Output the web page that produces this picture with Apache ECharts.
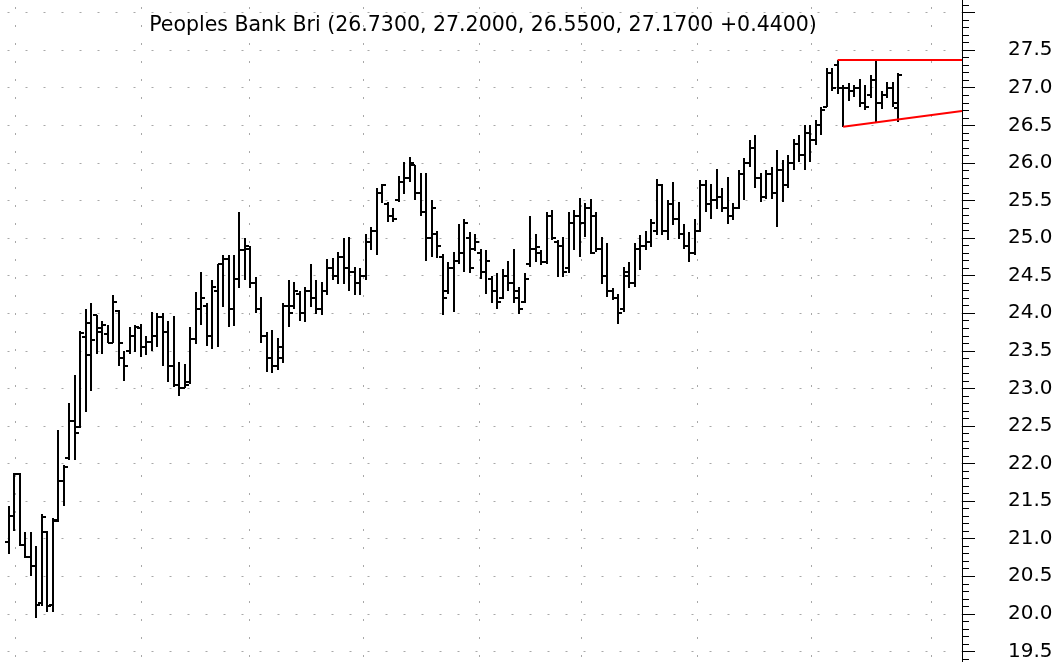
<!DOCTYPE html>
<html>
<head>
<meta charset="utf-8">
<script src="https://cdn.jsdelivr.net/npm/echarts@6/dist/echarts.min.js"></script>
<style>
html,body{margin:0;padding:0;background:#fff;overflow:hidden;width:1061px;height:662px;position:relative;}
#chart{position:absolute;left:0;top:-25.1px;width:1061px;height:713.5px;}
</style>
</head>
<body>
<div id="chart"></div>
<script>
// ---------- data ----------
const titleText = 'Peoples Bank Bri (26.7300, 27.2000, 26.5500, 27.1700 +0.4400)';

const opens = [
20.95,21.30,21.86,20.92,20.76,20.64,20.14,21.09,20.12,21.24,
21.77,22.07,22.56,22.49,23.69,23.87,23.98,23.75,23.72,23.60,
24.03,23.40,23.50,23.70,23.80,23.55,23.62,23.70,23.95,23.75,
23.30,23.05,23.00,23.08,23.66,24.06,24.10,23.70,24.30,24.65,
24.72,24.05,24.45,24.84,24.85,24.40,24.05,23.70,23.40,23.30,
23.40,24.10,24.10,24.25,24.00,24.30,24.20,24.05,24.30,24.60,
24.50,24.75,24.60,24.55,24.40,24.50,24.95,25.10,25.60,25.45,
25.30,25.50,25.75,25.80,25.97,25.60,25.35,25.00,25.05,24.75,
24.30,24.60,24.70,24.80,25.00,24.85,24.80,24.55,24.45,24.30,
24.20,24.50,24.40,24.30,24.15,24.65,24.85,24.80,24.68,25.30,
24.95,24.90,24.60,25.20,25.30,25.20,25.40,25.30,24.85,24.50,
24.30,24.20,24.05,24.50,24.40,24.85,24.90,24.95,25.10,25.70,
25.10,25.45,25.25,25.05,24.90,24.80,25.10,25.70,25.45,25.50,
25.55,25.40,25.30,25.40,25.85,26.00,26.20,25.80,25.55,25.85,
25.60,25.90,25.70,26.00,26.25,26.10,26.40,26.30,26.50,26.75,
27.20,27.30,27.00,27.00,26.95,27.00,26.80,26.90,27.10,26.80,
26.90,27.00,26.73
];
const highs = [
21.44,21.88,21.88,21.09,21.09,20.90,21.33,21.10,21.27,22.44,
21.98,22.80,23.18,23.76,24.05,24.14,23.98,23.89,23.84,24.24,
24.04,23.50,23.82,23.84,23.86,23.70,24.02,24.00,24.00,23.90,
23.96,23.35,23.33,23.82,24.28,24.55,24.13,24.44,24.66,24.77,
24.77,24.77,25.35,25.00,24.90,24.48,24.22,23.75,23.77,23.67,
24.14,24.44,24.41,24.30,24.35,24.66,24.44,24.41,24.72,24.73,
24.81,25.00,25.01,24.61,24.60,25.06,25.15,25.66,25.72,25.48,
25.40,25.83,26.01,26.08,25.97,25.86,25.86,25.50,25.10,24.79,
24.68,24.81,25.19,25.26,25.08,25.06,24.86,24.84,24.50,24.53,
24.59,24.70,24.86,24.35,24.53,25.30,25.06,24.84,25.35,25.37,
24.97,25.01,25.35,25.37,25.53,25.46,25.52,25.35,25.01,24.93,
24.34,24.26,24.61,24.68,24.93,25.04,25.10,25.26,25.79,25.72,
25.50,25.75,25.48,25.19,25.08,25.26,25.77,25.77,25.72,25.92,
25.66,25.81,25.46,25.90,26.06,26.30,26.37,25.86,25.90,25.95,
26.17,26.04,26.10,26.32,26.37,26.50,26.50,26.57,26.75,27.26,
27.26,27.37,27.03,27.06,27.03,27.12,27.03,27.17,27.37,26.95,
27.08,27.08,27.20
];
const lows = [
20.79,21.10,20.90,20.74,20.50,19.95,20.10,20.03,20.03,21.22,
21.44,22.05,22.05,22.47,22.69,22.96,23.46,23.46,23.60,23.60,
23.30,23.10,23.46,23.48,23.42,23.44,23.50,23.55,23.30,23.08,
23.02,22.90,23.00,23.06,23.59,23.84,23.57,23.53,23.55,24.08,
23.82,23.83,24.33,24.44,24.34,24.00,23.60,23.22,23.21,23.25,
23.34,23.82,24.06,23.90,23.88,24.08,23.99,23.97,24.24,24.44,
24.39,24.39,24.30,24.24,24.24,24.44,24.84,24.77,25.46,25.21,
25.21,25.48,25.59,25.75,25.50,25.30,24.70,24.75,24.73,23.97,
24.26,24.02,24.66,24.55,24.53,24.83,24.46,24.26,24.13,24.06,
24.19,24.30,24.13,23.99,24.13,24.61,24.68,24.64,24.66,24.97,
24.48,24.48,24.53,24.84,24.75,25.01,24.79,24.81,24.39,24.21,
24.17,23.86,24.01,24.33,24.35,24.57,24.84,24.88,25.04,25.04,
24.97,25.17,24.99,24.86,24.68,24.77,25.08,25.35,25.26,25.39,
25.35,25.19,25.24,25.38,25.50,25.95,25.66,25.48,25.52,25.52,
25.15,25.48,25.66,25.90,26.01,25.90,26.01,26.24,26.37,26.75,
26.95,26.92,26.48,26.83,26.88,26.75,26.70,26.86,26.55,26.72,
26.86,26.75,26.55
];
const closes = [
21.30,21.86,20.92,20.76,20.64,20.12,21.29,20.10,21.25,21.77,
21.95,22.56,22.40,23.74,23.44,23.65,23.80,23.84,23.60,24.15,
23.60,23.30,23.70,23.82,23.55,23.62,23.70,23.95,23.75,23.30,
23.05,23.00,23.05,23.66,24.06,24.20,23.70,24.35,24.65,24.72,
24.05,24.45,24.84,24.90,24.40,24.05,23.70,23.40,23.30,23.55,
24.10,24.00,24.30,24.00,24.30,24.20,24.05,24.30,24.60,24.50,
24.75,24.60,24.55,24.40,24.50,24.95,25.10,25.60,25.70,25.30,
25.25,25.75,25.80,26.00,25.60,25.35,25.00,25.40,24.90,24.20,
24.60,24.70,24.80,25.20,24.60,24.95,24.55,24.70,24.30,24.15,
24.50,24.40,24.20,24.05,24.45,24.85,24.88,24.68,25.30,25.00,
24.90,24.55,25.20,25.30,25.20,25.40,24.80,24.85,24.50,24.30,
24.20,24.00,24.55,24.40,24.85,24.90,24.95,25.20,25.70,25.10,
25.45,25.25,25.05,24.90,24.80,25.10,25.70,25.45,25.50,25.55,
25.40,25.30,25.40,25.85,26.00,26.20,25.80,25.55,25.85,25.60,
25.90,25.70,26.00,26.25,26.10,26.40,26.30,26.50,26.70,27.20,
27.00,27.00,27.00,26.95,27.00,26.80,26.75,27.10,26.80,26.90,
27.00,26.80,27.17
];

// month separators (positions on the bar-index scale)
const monthBreaks = [1.1, 24.05, 43.75, 64.5, 85.65, 104.25, 125.35, 146.15, 168.0];

// red triangle trend lines: [barIndex, price]
const upperTrend = [[151, 27.37], [173.66, 27.37]];
const lowerTrend = [[152, 26.48], [173.66, 26.69]];

// price axis tick labels shown on the right
const yTickLabels = ['19.5','20.0','20.5','21.0','21.5','22.0','22.5','23.0','23.5',
  '24.0','24.5','25.0','25.5','26.0','26.5','27.0','27.5'];

// ---------- chart ----------
const bars = opens.map((o, i) => [i, o, highs[i], lows[i], closes[i]]);
const Y_MIN = 19.0, Y_MAX = 28.5;
const FONT = 'DejaVu Sans, Liberation Sans, Arial, sans-serif';

function renderOHLC(params, api) {
  const i = api.value(0);
  const pO = api.coord([i, api.value(1)]);
  const pH = api.coord([i, api.value(2)]);
  const pL = api.coord([i, api.value(3)]);
  const pC = api.coord([i, api.value(4)]);
  const x = Math.round(pH[0]);
  const yO = Math.round(pO[1]);
  const yC = Math.round(pC[1]);
  const st = { stroke: '#000', lineWidth: 2, lineCap: 'butt' };
  return {
    type: 'group',
    children: [
      { type: 'line', shape: { x1: x, y1: Math.round(pH[1]), x2: x, y2: Math.round(pL[1]) }, style: st },
      { type: 'line', shape: { x1: x - 4, y1: yO, x2: x, y2: yO }, style: st },
      { type: 'line', shape: { x1: x, y1: yC, x2: x + 4, y2: yC }, style: st }
    ]
  };
}

function renderVGrid(params, api) {
  const v = api.value(0);
  const top = api.coord([v, Y_MAX]);
  const bot = api.coord([v, Y_MIN]);
  const x = Math.round(top[0]) + 0.5;
  return {
    type: 'line',
    shape: { x1: x, y1: top[1], x2: x, y2: bot[1] },
    style: { stroke: '#a8a8a8', lineWidth: 1, lineDash: [2, 16], lineDashOffset: 4 }
  };
}

const chart = echarts.init(document.getElementById('chart'), null, { renderer: 'canvas' });
chart.setOption({
  animation: false,
  backgroundColor: '#fff',
  grid: { left: 0, right: 99, top: 0, bottom: 0 },
  graphic: [{
    type: 'text', x: 483, y: 50.6,
    style: { text: titleText, align: 'center', verticalAlign: 'middle',
      font: '20.5px ' + FONT, fill: '#000' }
  }],
  xAxis: { type: 'value', min: -1.64, max: 173.66, show: false },
  yAxis: {
    type: 'value', position: 'right', min: Y_MIN, max: Y_MAX, interval: 0.5,
    axisLine: { show: true, onZero: false, lineStyle: { color: '#000', width: 1 } },
    axisTick: { show: true, length: 13, lineStyle: { color: '#000', width: 1 } },
    minorTick: { show: true, splitNumber: 5, length: 7, lineStyle: { color: '#000', width: 1 } },
    splitLine: { show: true, lineStyle: { color: '#a8a8a8', width: 1, type: [2, 16], dashOffset: 10.5 } },
    axisLabel: {
      margin: 46, color: '#000', fontSize: 20, fontFamily: FONT,
      formatter: function (v) { const s = v.toFixed(1); return yTickLabels.indexOf(s) >= 0 ? s : ''; }
    }
  },
  series: [
    {
      type: 'custom', name: 'months', renderItem: renderVGrid, silent: true, z: 1,
      data: monthBreaks.map(v => [v, Y_MIN]), encode: { x: 0, y: 1 }
    },
    {
      type: 'custom', name: 'Peoples Bank Bri', renderItem: renderOHLC, z: 3,
      data: bars, encode: { x: 0, y: [1, 2, 3, 4] }
    },
    {
      type: 'line', name: 'upper', data: upperTrend, symbol: 'none', silent: true, z: 4,
      lineStyle: { color: '#ff0000', width: 2 }
    },
    {
      type: 'line', name: 'lower', data: lowerTrend, symbol: 'none', silent: true, z: 4,
      lineStyle: { color: '#ff0000', width: 2 }
    }
  ]
});
</script>
</body>
</html>
